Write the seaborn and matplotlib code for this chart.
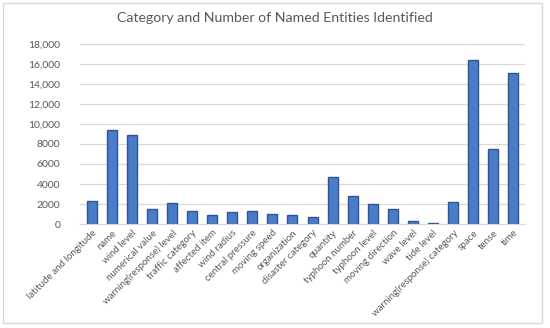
import matplotlib
matplotlib.use('Agg')
import matplotlib.pyplot as plt
from matplotlib.patches import Rectangle
from matplotlib.ticker import FuncFormatter
import pandas as pd
import seaborn as sns

# --- Data ---
categories = [
    'latitude and longitude', 'name', 'wind level', 'numerical value',
    'warning(response) level', 'traffic category', 'affected item',
    'wind radius', 'central pressure', 'moving speed', 'organization',
    'disaster category', 'quantity', 'typhoon number', 'typhoon level',
    'moving direction', 'wave level', 'tide level',
    'warning(response) category', 'space', 'tense', 'time',
]
counts = [
    2300, 9400, 8900, 1500, 2100, 1300, 900, 1200, 1350, 1000, 900,
    750, 4700, 2800, 2000, 1500, 300, 100, 2200, 16400, 7500, 15100,
]
y_ticks = [0, 2000, 4000, 6000, 8000, 10000, 12000, 14000, 16000, 18000]

TITLE = 'Category and Number of Named Entities Identified'
TEXT_COLOR = '#595959'
BAR_COLOR = '#4a7cc7'
EDGE_COLOR = '#2f5597'


def fmt_tick(v, _pos):
    # Excel style: thousands separator only from 10,000 upwards
    v = int(round(v))
    return f'{v:,}' if v >= 10000 else str(v)


def main():
    df = pd.DataFrame({'Category': categories, 'Count': counts})

    sns.set_style('white')
    plt.rcParams['font.family'] = ['Lato', 'DejaVu Sans']

    fig = plt.figure(figsize=(5.5, 3.28), dpi=100)
    ax = fig.add_axes([0.145, 0.317, 0.81, 0.549])

    sns.barplot(data=df, x='Category', y='Count', color=BAR_COLOR,
                width=0.5, edgecolor=EDGE_COLOR, linewidth=1.0,
                saturation=1, ax=ax)

    ax.set_ylim(0, 18000)
    ax.set_yticks(y_ticks)
    ax.yaxis.set_major_formatter(FuncFormatter(fmt_tick))
    ax.set_xlim(-0.6, len(categories) - 0.4)
    ax.yaxis.grid(True, color='#d9d9d9', linewidth=0.9)
    ax.set_axisbelow(True)
    for s in ax.spines.values():
        s.set_visible(False)
    ax.spines['bottom'].set_visible(True)
    ax.spines['bottom'].set_color('#d9d9d9')

    ax.set_xlabel('')
    ax.set_ylabel('')
    ax.tick_params(axis='y', length=0, pad=14, labelsize=7.5, labelcolor=TEXT_COLOR)
    ax.tick_params(axis='x', length=0, pad=3, labelsize=7, labelcolor=TEXT_COLOR)
    plt.setp(ax.get_xticklabels(), rotation=45, ha='right',
             rotation_mode='anchor')

    fig.text(0.5, 0.945, TITLE, ha='center', va='center',
             fontsize=10.2, color=TEXT_COLOR)

    # light chart border
    fig.patches.append(Rectangle((3 / 550, 5 / 328), 539 / 550, 320 / 328,
                                 transform=fig.transFigure, fill=False,
                                 edgecolor='#d9d9d9', linewidth=1))

    fig.savefig('out.png', dpi=100)
    plt.close(fig)


if __name__ == '__main__':
    main()
